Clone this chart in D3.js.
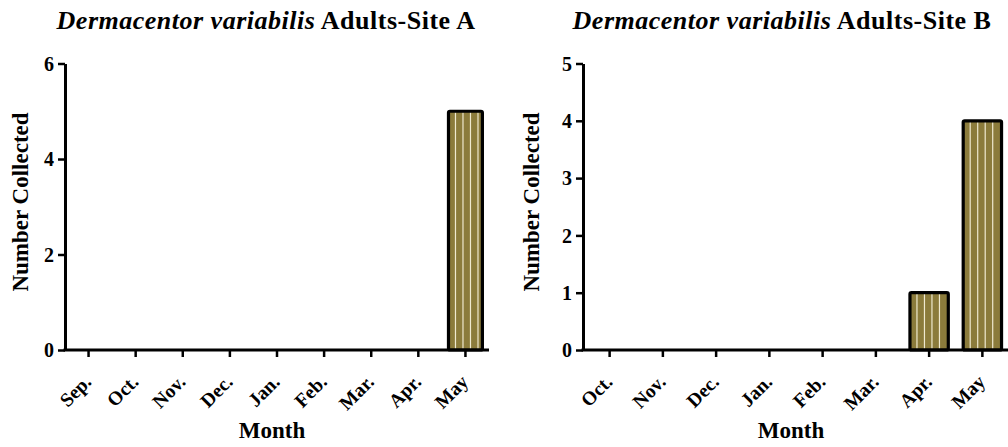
<!DOCTYPE html>
<html><head><meta charset="utf-8">
<script src="https://cdn.jsdelivr.net/npm/d3@7"></script>
<style>
body{margin:0;background:#fff;}
svg text{font-family:"Liberation Serif","Times New Roman",serif;font-weight:bold;fill:#000;}
</style></head>
<body><svg id="c" width="1008" height="447"></svg>
<script>
const monthsA = ["Sep.","Oct.","Nov.","Dec.","Jan.","Feb.","Mar.","Apr.","May"];
const valuesA = [0,0,0,0,0,0,0,0,5];
const ticksA = [0,2,4,6];
const monthsB = ["Oct.","Nov.","Dec.","Jan.","Feb.","Mar.","Apr.","May"];
const valuesB = [0,0,0,0,0,0,1,4];
const ticksB = [0,1,2,3,4,5];
const speciesName = "Dermacentor variabilis";
const titleA = " Adults-Site A";
const titleB = " Adults-Site B";
const yLabel = "Number Collected";
const xLabel = "Month";

const svg = d3.select("#c");
const fillCol = "#8b7b3b", stripeCol = "#efe9cf";

function panel(cfg){
  const g = svg.append("g");
  const x = d3.scaleBand().domain(cfg.cats).range([cfg.x0, cfg.x1]).paddingInner(0.28).paddingOuter(0.14);
  const y = d3.scaleLinear().domain([0, cfg.ymax]).range([350, 63.5]);
  const bars = g.selectAll("g.bar").data(cfg.cats.map((c,i)=>({c, v: cfg.vals[i]})).filter(d=>d.v>0))
    .enter().append("g");
  bars.append("rect")
    .attr("x", d=>x(d.c)).attr("y", d=>y(d.v))
    .attr("width", x.bandwidth()).attr("height", d=>y(0)-y(d.v))
    .attr("fill", fillCol);
  bars.each(function(d){
    const b = d3.select(this);
    const x0 = x(d.c), w = x.bandwidth();
    d3.range(x0 + 7, x0 + w - 3, 7.5).forEach(sx=>{
      b.append("line").attr("x1", sx).attr("x2", sx).attr("y1", y(d.v)+1).attr("y2", y(0))
        .attr("stroke", stripeCol).attr("stroke-width", 1.2);
    });
  });
  bars.append("rect")
    .attr("x", d=>x(d.c)).attr("y", d=>y(d.v))
    .attr("width", x.bandwidth()).attr("height", d=>y(0)-y(d.v))
    .attr("fill","none").attr("stroke","#000").attr("stroke-width",3.2).attr("stroke-linejoin","round")
    .attr("rx",1.5);
  const ya = g.append("g").attr("transform",`translate(${cfg.x0},0)`)
    .call(d3.axisLeft(y).tickValues(cfg.ticks).tickFormat(d3.format("d")).tickSize(7).tickSizeOuter(0).tickPadding(4));
  ya.select(".domain").attr("stroke-width",3);
  ya.selectAll(".tick line").attr("stroke-width",2.5);
  ya.selectAll(".tick text").style("font-size","20px").style("font-family","Liberation Serif").style("font-weight","bold").attr("dy","0.34em");
  const xa = g.append("g").attr("transform",`translate(0,${y(0)})`)
    .call(d3.axisBottom(x).tickSize(7).tickSizeOuter(0).tickFormat(d=>d));
  xa.select(".domain").attr("stroke-width",3).attr("d",`M${cfg.x0-1.5},0H${cfg.x1}`);
  xa.selectAll(".tick line").attr("stroke-width",2.5);
  xa.selectAll(".tick text")
    .style("font-size","19.5px").style("font-family","Liberation Serif").style("font-weight","bold")
    .attr("text-anchor","end").attr("dy",null).attr("y",null)
    .attr("transform","translate(4,33) rotate(-45)");
  const t = g.append("text").attr("x", cfg.tx).attr("y", 29).attr("text-anchor","middle").style("font-size","26px").style("letter-spacing","0.5px");
  t.append("tspan").style("font-style","italic").text(speciesName);
  t.append("tspan").text(cfg.title);
  g.append("text").attr("x", cfg.mx).attr("y", 438).attr("text-anchor","middle").style("font-size","23px").text(xLabel);
  g.append("text").attr("transform",`translate(${cfg.lx},202) rotate(-90)`).attr("text-anchor","middle").style("font-size","23px").text(yLabel);
}

panel({cats: monthsA, vals: valuesA, ymax: 6, ticks: ticksA, x0: 65, x1: 489, tx: 266, mx: 272, lx: 28, title: titleA});
panel({cats: monthsB, vals: valuesB, ymax: 5, ticks: ticksB, x0: 583, x1: 1009, tx: 782, mx: 791, lx: 539, title: titleB});
</script></body></html>
